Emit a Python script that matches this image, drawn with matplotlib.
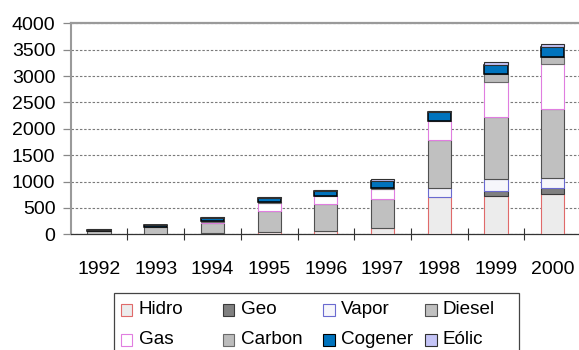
import numpy as np
import matplotlib.pyplot as plt
from matplotlib.patches import Rectangle

plt.rcParams['font.family'] = ['Liberation Sans', 'DejaVu Sans']

years = ['1992', '1993', '1994', '1995', '1996', '1997', '1998', '1999', '2000']
hidro = [10, 15, 10, 40, 60, 125, 700, 730, 760]
geo = [0, 0, 15, 0, 0, 0, 0, 95, 110]
vapor = [0, 0, 0, 0, 0, 0, 170, 215, 190]
diesel = [50, 115, 195, 405, 505, 545, 910, 1175, 1320]
gas = [0, 0, 20, 150, 155, 185, 365, 675, 840]
carbon = [5, 5, 5, 15, 10, 15, 10, 155, 145]
cogener = [25, 35, 60, 70, 90, 145, 165, 160, 190]
eolic = [5, 5, 15, 20, 15, 30, 25, 60, 50]

names = ['Hidro', 'Geo', 'Vapor', 'Diesel', 'Gas', 'Carbon', 'Cogener', 'Eólic']
series = [hidro, geo, vapor, diesel, gas, carbon, cogener, eolic]
faces = ['#ececec', '#808080', '#f6f6fb', '#c0c0c0', '#ffffff', '#bcbcbc', '#0073bd', '#c4c4f6']
edges = ['#e06a6a', '#3a3a3a', '#6a6ad0', '#505050', '#e07ee0', '#6a6a6a', '#000000', '#303030']
lws = [0.8, 0.8, 0.8, 0.8, 0.8, 0.8, 1.1, 0.8]

W, H = 579, 350
fig = plt.figure(figsize=(W / 100, H / 100), dpi=100)
ax = fig.add_axes([70.7 / W, 1 - 234.3 / H, (581 - 70.7) / W, (234.3 - 23.3) / H])

x = np.arange(len(years))
bottom = np.zeros(len(years))
for vals, f, e, lw in zip(series, faces, edges, lws):
    vals = np.array(vals, dtype=float)
    ax.bar(x, vals, 0.41, bottom=bottom, color=f, edgecolor=e,
           linewidth=[lw if v > 0 else 0 for v in vals], zorder=3)
    bottom += vals

ax.set_xlim(-0.5, len(years) - 0.5)
ax.set_ylim(0, 4000)
ax.set_yticks(np.arange(0, 4001, 500))
ax.set_xticks(x)
ax.set_xticklabels(years)
ax.set_xticks(np.arange(0.5, len(years) - 1, 1), minor=True)
ax.tick_params(axis='x', which='major', length=0, pad=19.5, labelsize=14)
ax.tick_params(axis='x', which='minor', length=9, direction='inout', color='#333333', width=0.8)
ax.tick_params(axis='y', length=5.5, pad=5.5, labelsize=14, color='#888888', width=0.9)
ax.yaxis.grid(True, color='#7a7a7a', linestyle=(0, (2.2, 1.6)), linewidth=0.8, zorder=0)

ax.spines['right'].set_visible(False)
ax.spines['top'].set_color('#9a9a9a')
ax.spines['top'].set_linewidth(1.6)
ax.spines['left'].set_color('#9a9a9a')
ax.spines['left'].set_linewidth(1.5)
ax.spines['bottom'].set_color('#333333')
ax.spines['bottom'].set_linewidth(0.9)

# legend drawn by hand, Excel style with equal columns
def px(xp, yp):
    return xp / W, 1 - yp / H

lx0, ly0 = px(114, 352)
lx1, ly1 = px(519.3, 293)
fig.add_artist(Rectangle((lx0, ly0), lx1 - lx0, ly1 - ly0, transform=fig.transFigure,
                         facecolor='white', edgecolor='#444444', linewidth=0.9))
col_x = [120.7, 222.7, 323.3, 425.0]
row_y = [309.5, 339.5]
for i, name in enumerate(names):
    cx = col_x[i % 4]
    cy = row_y[i // 4]
    mx, my = px(cx, cy + 6)
    fig.add_artist(Rectangle((mx, my), 11.5 / W, 11.5 / H, transform=fig.transFigure,
                             facecolor=faces[i], edgecolor=edges[i], linewidth=0.8))
    tx, ty = px(cx + 18, cy)
    fig.text(tx, ty, name, fontsize=13.6, va='center', ha='left')

fig.savefig('out.png', dpi=100)
